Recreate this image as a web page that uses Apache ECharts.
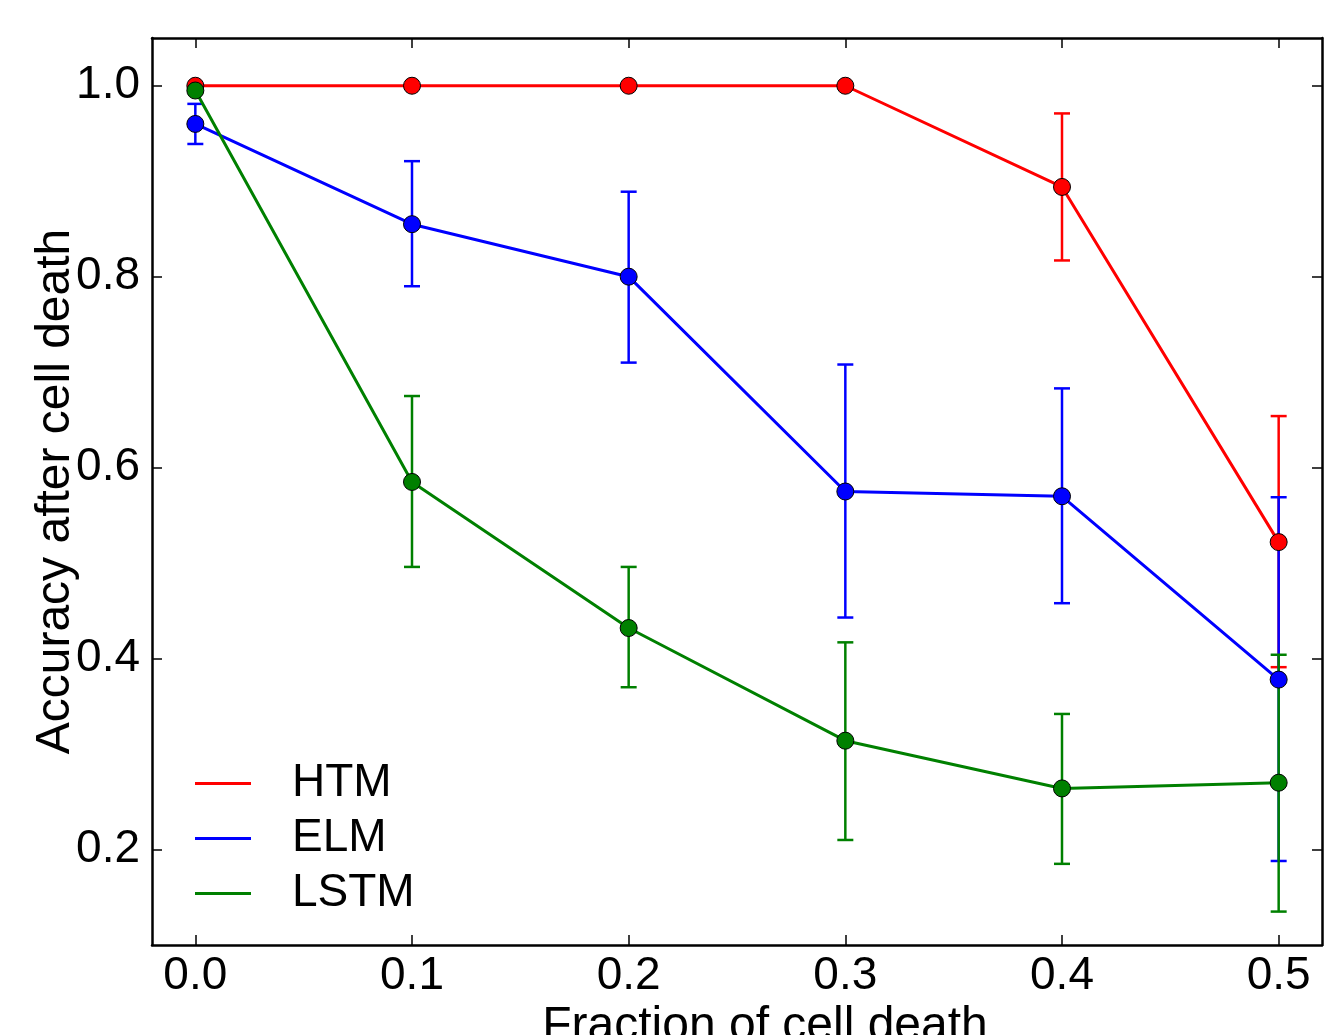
<!DOCTYPE html>
<html>
<head>
<meta charset="utf-8">
<script src="https://cdn.jsdelivr.net/npm/echarts@6/dist/echarts.min.js"></script>
<style>
  html, body { margin: 0; padding: 0; background: #fff; }
  #chart { width: 1328px; height: 1035px; }
</style>
</head>
<body>
<div id="chart"></div>
<script>
'use strict';

// fraction of cell death
const xValues = [0.0, 0.1, 0.2, 0.3, 0.4, 0.5];
const xTicks = [0.0, 0.1, 0.2, 0.3, 0.4, 0.5];
const yTicks = [0.2, 0.4, 0.6, 0.8, 1.0];

// accuracy + error bar bounds
const htmMean = [1.0, 1.0, 1.0, 1.0, 0.894, 0.522];
const htmLow = [1.0, 1.0, 1.0, 1.0, 0.817, 0.391];
const htmHigh = [1.0, 1.0, 1.0, 1.0, 0.971, 0.654];

const elmMean = [0.960, 0.855, 0.800, 0.575, 0.570, 0.378];
const elmLow = [0.939, 0.790, 0.710, 0.443, 0.458, 0.188];
const elmHigh = [0.981, 0.921, 0.889, 0.708, 0.683, 0.569];

const lstmMean = [0.995, 0.585, 0.432, 0.314, 0.264, 0.270];
const lstmLow = [0.995, 0.496, 0.370, 0.210, 0.185, 0.135];
const lstmHigh = [0.995, 0.675, 0.496, 0.417, 0.342, 0.404];

const names = ['HTM', 'ELM', 'LSTM'];
const colors = ['#ff0000', '#0000ff', '#008000'];

const FONT = '"Liberation Sans", Arial, sans-serif';

let chart = echarts.init(document.getElementById('chart'));

let zip = function (a, b) {
    return a.map(function (v, i) { return [v, b[i]]; });
};
let zip3 = function (a, b, c) {
    return a.map(function (v, i) { return [v, b[i], c[i]]; });
};

let errorSeries = function (low, high, color) {
    return {
        type: 'custom',
        z: 1,
        silent: true,
        data: zip3(xValues, low, high),
        renderItem: function (params, api) {
            let top = api.coord([api.value(0), api.value(2)]);
            let bot = api.coord([api.value(0), api.value(1)]);
            let hw = 8;
            let style = { stroke: color, lineWidth: 2.5 };
            return {
                type: 'group',
                children: [
                    { type: 'line', shape: { x1: top[0], y1: top[1], x2: bot[0], y2: bot[1] }, style: style },
                    { type: 'line', shape: { x1: top[0] - hw, y1: top[1], x2: top[0] + hw, y2: top[1] }, style: style },
                    { type: 'line', shape: { x1: bot[0] - hw, y1: bot[1], x2: bot[0] + hw, y2: bot[1] }, style: style }
                ]
            };
        }
    };
};

let lineSeries = function (name, mean, color) {
    return {
        name: name,
        type: 'line',
        z: 3,
        data: zip(xValues, mean),
        symbol: 'circle',
        symbolSize: 17,
        showSymbol: true,
        lineStyle: { color: color, width: 3 },
        itemStyle: { color: color, borderColor: '#000', borderWidth: 1 }
    };
};

let axisBase = {
    type: 'value',
    axisLine: { show: true, onZero: false, lineStyle: { color: '#000', width: 2.5 } },
    axisTick: { show: true, inside: true, length: 10, lineStyle: { color: '#000', width: 1.5 } },
    splitLine: { show: false }
};

let option = {
    animation: false,
    backgroundColor: '#fff',
    grid: { left: 152, right: 6, top: 38, bottom: 90, outerBoundsMode: 'none', containLabel: false },
    legend: {
        orient: 'vertical',
        left: 195,
        top: 756,
        padding: 0,
        icon: 'rect',
        itemWidth: 56,
        itemHeight: 3,
        itemGap: 0,
        itemStyle: { borderWidth: 0 },
        data: names,
        textStyle: { fontFamily: FONT, fontSize: 46, color: '#000', lineHeight: 55, padding: [0, 0, 0, 36] }
    },
    xAxis: [
        Object.assign({}, axisBase, {
            min: -0.02, max: 0.52, position: 'bottom',
            axisTick: Object.assign({}, axisBase.axisTick, { customValues: xTicks }),
            axisLabel: {
                customValues: xTicks, margin: 8, color: '#000', fontFamily: FONT, fontSize: 46,
                formatter: function (v) { return v.toFixed(1); }
            },
            name: 'Fraction of cell death',
            nameLocation: 'middle',
            nameGap: 58,
            nameMoveOverlap: false,
            nameTextStyle: { fontFamily: FONT, fontSize: 48, color: '#000', padding: [0, 0, 0, 56] }
        }),
        Object.assign({}, axisBase, {
            min: -0.02, max: 0.52, position: 'top',
            axisTick: Object.assign({}, axisBase.axisTick, { customValues: xTicks }),
            axisLabel: { show: false }
        })
    ],
    yAxis: [
        Object.assign({}, axisBase, {
            min: 0.1, max: 1.05, position: 'left',
            axisTick: Object.assign({}, axisBase.axisTick, { customValues: yTicks }),
            axisLabel: {
                customValues: yTicks, margin: 12, color: '#000', fontFamily: FONT, fontSize: 46,
                formatter: function (v) { return v.toFixed(1); }
            },
            name: 'Accuracy after cell death',
            nameLocation: 'middle',
            nameRotate: 90,
            nameGap: 72,
            nameMoveOverlap: false,
            nameTextStyle: { fontFamily: FONT, fontSize: 48, color: '#000' }
        }),
        Object.assign({}, axisBase, {
            min: 0.1, max: 1.05, position: 'right',
            axisTick: Object.assign({}, axisBase.axisTick, { customValues: yTicks }),
            axisLabel: { show: false }
        })
    ],
    series: [
        errorSeries(htmLow, htmHigh, colors[0]),
        errorSeries(elmLow, elmHigh, colors[1]),
        errorSeries(lstmLow, lstmHigh, colors[2]),
        lineSeries(names[0], htmMean, colors[0]),
        lineSeries(names[1], elmMean, colors[1]),
        lineSeries(names[2], lstmMean, colors[2])
    ]
};

chart.setOption(option);
</script>
</body>
</html>
